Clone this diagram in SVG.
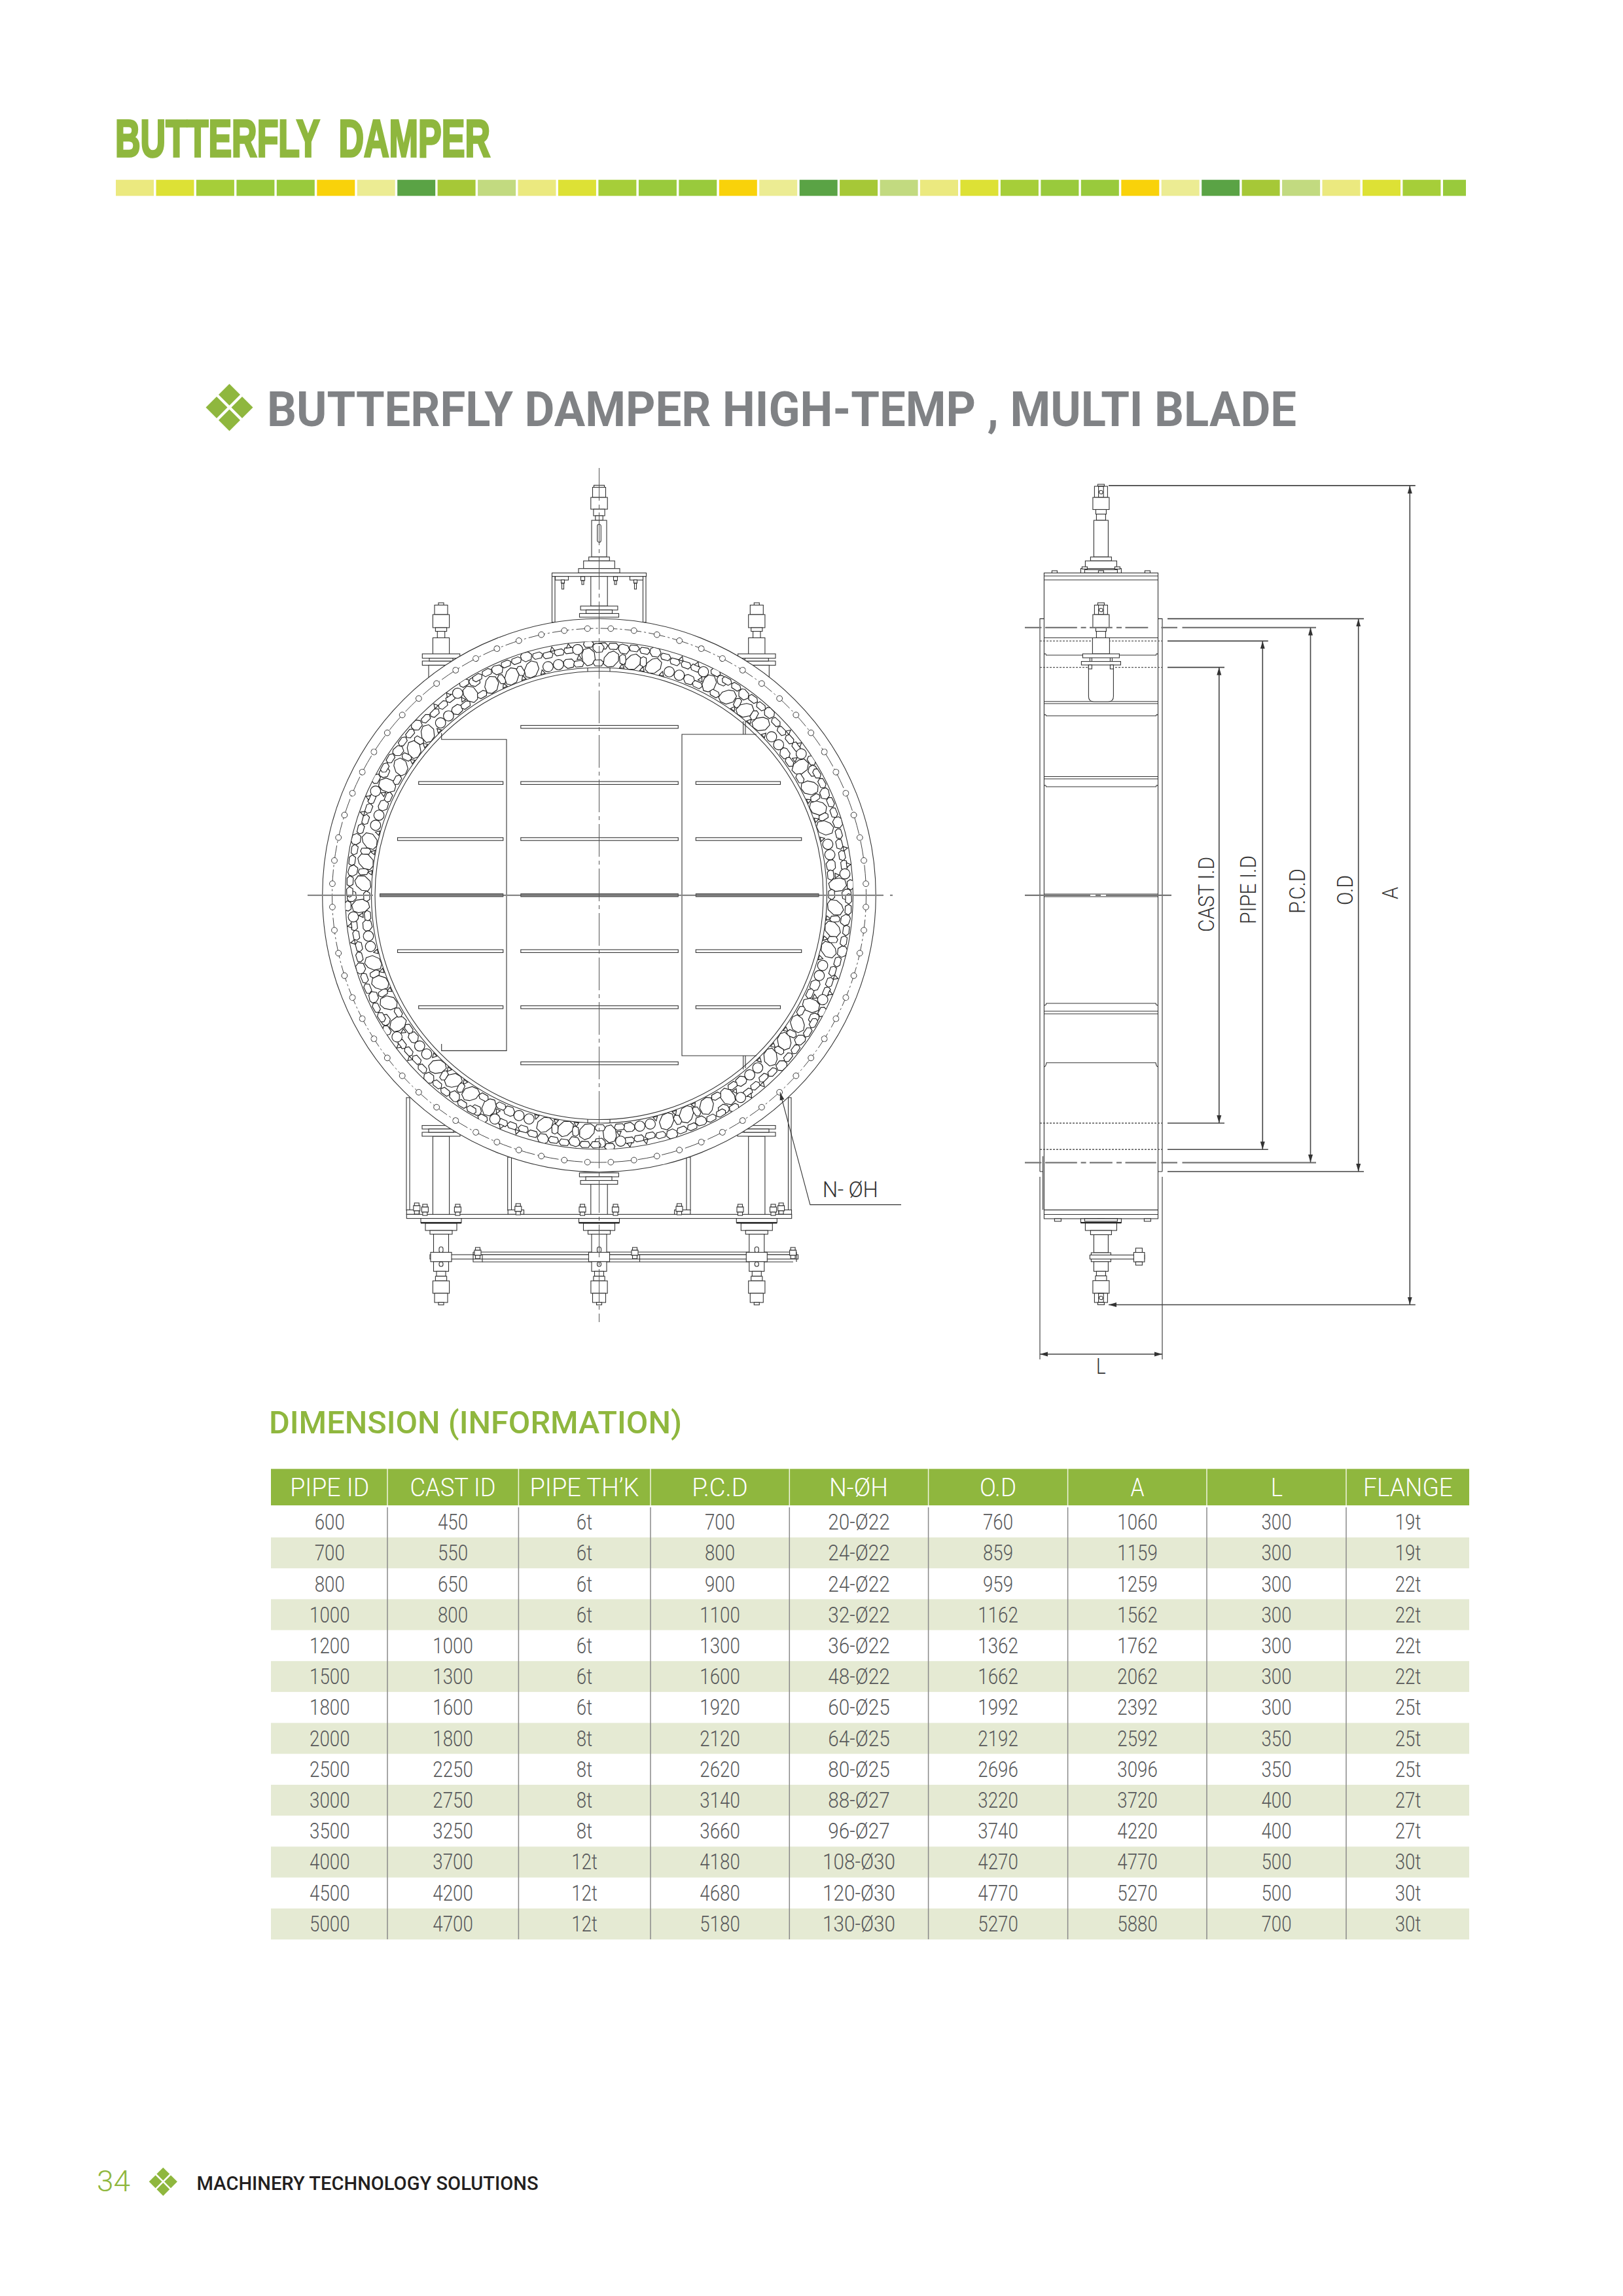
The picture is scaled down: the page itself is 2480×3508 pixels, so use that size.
<svg xmlns="http://www.w3.org/2000/svg" width="2480" height="3508" viewBox="0 0 2480 3508">
<style>
text{font-family:Roboto,"Liberation Sans",sans-serif}
.l{fill:none;stroke:#333;stroke-width:1.1}
.t{fill:none;stroke:#555;stroke-width:1}
.w{fill:#fff;stroke:#333;stroke-width:1.1}
.g{fill:#8fb73e}
.d{fill:none;stroke:#444;stroke-width:1.6}
.dg{fill:none;stroke:#777;stroke-width:2.2}
.dot{fill:none;stroke:#555;stroke-width:1.4;stroke-dasharray:3 2}
.lbl{font-size:33px;font-weight:300;fill:#333}
.hd{font-size:38px;font-weight:300;fill:#fff;text-anchor:middle}
.c{font-size:33px;font-weight:300;fill:#58595b;text-anchor:middle}
.st{fill:#fff;stroke:#222;stroke-width:1.15;stroke-linejoin:miter}
.sep{stroke:#8a8a8a;stroke-width:1.5}
.seh{stroke:#f0f4e0;stroke-width:1.5}
.s rect{y:274.7px;height:24.6px;width:58px}
</style>
<defs>
<marker id="a" markerUnits="userSpaceOnUse" markerWidth="13" markerHeight="8" refX="12" refY="4" orient="auto-start-reverse"><path d="M0,0.5 L12,4 L0,7.5Z" fill="#333"/></marker>
<g id="dm"><path d="M0,-16.5 L16.5,0 L0,16.5 L-16.5,0Z" transform="translate(0 -19.5)"/><path d="M0,-16.5 L16.5,0 L0,16.5 L-16.5,0Z" transform="translate(0 19.5)"/><path d="M0,-16.5 L16.5,0 L0,16.5 L-16.5,0Z" transform="translate(-19.5 0)"/><path d="M0,-16.5 L16.5,0 L0,16.5 L-16.5,0Z" transform="translate(19.5 0)"/></g>
<circle id="h" cx="915.5" cy="960" r="4.4" fill="#fff" stroke="#333" stroke-width=".9" transform="rotate(2.5 915.5 1368)"/>
<g id="h3"><use href="#h"/><use href="#h" transform="rotate(5 915.5 1368)"/><use href="#h" transform="rotate(10 915.5 1368)"/></g>
<g id="h9"><use href="#h3"/><use href="#h3" transform="rotate(15 915.5 1368)"/><use href="#h3" transform="rotate(30 915.5 1368)"/></g>
<g id="h18"><use href="#h9"/><use href="#h9" transform="rotate(45 915.5 1368)"/></g>
<g id="h36"><use href="#h18"/><use href="#h18" transform="rotate(90 915.5 1368)"/></g>
<path id="L" class="st" d="M-3,-13 L6,-12 L10.5,-3 L7.5,8 L0,13 L-7.5,12 L-11,3 L-8.5,-7Z"/>
<path id="M" class="st" d="M-4,-7 L5,-6.5 L9,-1 L6,6 L-3,7 L-8,2 L-8,-4Z"/>
<circle id="C" class="st" r="7.8"/>
<path id="S" class="st" d="M-6,-4.5 L4,-5 L8,-1 L5,4.5 L-5,4.5 L-8,0Z"/>
<path id="T" class="st" d="M0,-3.5 L3.5,3 L-3.5,3Z"/>
<g id="w1">
<use href="#S" transform="rotate(0.8) translate(0 -381)"/>
<use href="#L" transform="rotate(3) translate(0 -361) rotate(25)"/>
<use href="#S" transform="rotate(3.3) translate(0 -381)"/>
<use href="#M" transform="rotate(5.7) translate(0 -378) rotate(10)"/>
<use href="#T" transform="rotate(5.7) translate(0 -352)"/>
<use href="#S" transform="rotate(5.7) translate(0 -362) rotate(80)"/>
<use href="#L" transform="rotate(8.3) translate(0 -360) rotate(25)"/>
<use href="#S" transform="rotate(8.1) translate(0 -381)"/>
<use href="#S" transform="rotate(10.6) translate(0 -380)"/>
<use href="#T" transform="rotate(10.8) translate(0 -352)"/>
<use href="#S" transform="rotate(10.7) translate(0 -363) rotate(80)"/>
<use href="#L" transform="rotate(13.4) translate(0 -360) rotate(25)"/>
<use href="#M" transform="rotate(13) translate(0 -381)"/>
<use href="#S" transform="rotate(15.6) translate(0 -378)"/>
<use href="#T" transform="rotate(15.8) translate(0 -352)"/>
<use href="#C" transform="rotate(17.4) translate(0 -358)"/>
<use href="#S" transform="rotate(18) translate(0 -375)"/>
<use href="#T" transform="rotate(19.2) translate(0 -383)"/>
<use href="#C" transform="rotate(20) translate(0 -358)"/>
<use href="#S" transform="rotate(20.7) translate(0 -376)"/>
<use href="#M" transform="rotate(22.6) translate(0 -357)"/>
<use href="#S" transform="rotate(23) translate(0 -377)"/>
<use href="#T" transform="rotate(23) translate(0 -384)"/>
<use href="#C" transform="rotate(25) translate(0 -377)"/>
<use href="#S" transform="rotate(25) translate(0 -355)"/>
<use href="#L" transform="rotate(27.5) translate(0 -365) rotate(-20)"/>
<use href="#S" transform="rotate(27.6) translate(0 -384)"/>
<use href="#T" transform="rotate(25.2) translate(0 -365)"/>
<use href="#M" transform="rotate(29.8) translate(0 -378)"/>
<use href="#S" transform="rotate(29.8) translate(0 -355)"/>
</g>
<g id="w2"><use href="#w1"/><use href="#w1" transform="rotate(30)"/></g>
<g id="w4"><use href="#w2"/><use href="#w2" transform="rotate(60)"/></g>
<clipPath id="cr"><circle cx="0" cy="0" r="388"/></clipPath>
<g id="b"><rect class="w" x="-5" y="-6" width="10" height="8"/><rect class="w" x="-3.5" y="-10" width="7" height="4"/><rect class="w" x="-3.5" y="2" width="7" height="5"/></g>
<g id="sa">
<rect class="w" x="-4" y="921" width="8" height="3.5"/>
<rect class="w" x="-10" y="924.5" width="20" height="14.5"/>
<rect class="w" x="-12.6" y="939" width="25.2" height="20"/>
<rect class="w" x="-8.6" y="959" width="17.2" height="5.6"/>
<rect class="w" x="-5.7" y="964.6" width="11.4" height="10"/>
<rect class="w" x="-12.6" y="974.5" width="25.2" height="25"/>
<rect class="w" x="-28.7" y="999" width="57.4" height="6.7"/>
<rect class="w" x="-28.7" y="1010" width="57.4" height="6.4"/>
<rect class="w" x="-18" y="1005.7" width="36" height="4.3"/>
<rect class="w" x="-19" y="1016.4" width="38" height="25"/>
</g>
<g id="fb">
<rect class="w" x="-31" y="1861.6" width="62" height="6.4"/>
<rect class="w" x="-24" y="1868.8" width="48" height="11.2"/>
<path d="M-31,1868.4 H31" stroke="#222" stroke-width="2.4" fill="none"/>
<rect class="w" x="-17" y="1880" width="34" height="5.7"/>
<rect class="w" x="-11.5" y="1885.7" width="23" height="30"/>
<rect class="w" x="-3" y="1905" width="6" height="9" rx="3"/>
<rect class="w" x="-16" y="1913.4" width="32" height="14.3"/>
<rect class="w" x="-11.5" y="1927.7" width="23" height="14.7"/>
<rect class="w" x="-3" y="1928" width="6" height="7" rx="3"/>
<rect class="w" x="-7" y="1942.4" width="14" height="7.6"/>
<rect class="w" x="-8.6" y="1950" width="17.2" height="7"/>
<rect class="w" x="-12.6" y="1957" width="25.2" height="19"/>
<rect class="w" x="-10" y="1976" width="20" height="14"/>
<rect class="w" x="-4" y="1990" width="8" height="3.7"/>
</g>
</defs>

<g id="page-title">
<text x="176" y="239" font-size="80" font-weight="700" textLength="573" lengthAdjust="spacingAndGlyphs" xml:space="preserve" style="font-family:'Liberation Sans',Arial,sans-serif" fill="#8fb73e" stroke="#8fb73e" stroke-width="3.4">BUTTERFLY  DAMPER</text>
</g>
<g id="stripes" class="s">
<rect x="177" fill="#ebe97f"/><rect x="238.5" fill="#dde135"/><rect x="299.9" fill="#a6ce39"/><rect x="361.4" fill="#99ca3c"/><rect x="422.8" fill="#99ca3c"/><rect x="484.3" fill="#f9d20a"/><rect x="545.7" fill="#ecec93"/><rect x="607.2" fill="#5aa345"/><rect x="668.6" fill="#a6c837"/><rect x="730.1" fill="#c2da80"/>
<rect x="791.5" fill="#ebe97f"/><rect x="852.9" fill="#dde135"/><rect x="914.4" fill="#a6ce39"/><rect x="975.9" fill="#99ca3c"/><rect x="1037.3" fill="#99ca3c"/><rect x="1098.8" fill="#f9d20a"/><rect x="1160.2" fill="#ecec93"/><rect x="1221.7" fill="#5aa345"/><rect x="1283.1" fill="#a6c837"/><rect x="1344.6" fill="#c2da80"/>
<rect x="1406" fill="#ebe97f"/><rect x="1467.5" fill="#dde135"/><rect x="1528.9" fill="#a6ce39"/><rect x="1590.4" fill="#99ca3c"/><rect x="1651.8" fill="#99ca3c"/><rect x="1713.3" fill="#f9d20a"/><rect x="1774.7" fill="#ecec93"/><rect x="1836.2" fill="#5aa345"/><rect x="1897.6" fill="#a6c837"/><rect x="1959.1" fill="#c2da80"/>
<rect x="2020.5" fill="#ebe97f"/><rect x="2082" fill="#dde135"/><rect x="2143.4" fill="#a6ce39"/><rect x="2205" style="width:35px" fill="#99ca3c"/>
</g>
<g id="section-heading">
<use href="#dm" class="g" x="350.5" y="622.5"/>
<text x="408" y="650.7" font-size="75" font-weight="700" fill="#808285" textLength="1573" lengthAdjust="spacingAndGlyphs">BUTTERFLY DAMPER HIGH-TEMP , MULTI BLADE</text>
</g>

<g id="front-view">
<g id="front-top-actuator" transform="translate(915.5 0)">
<rect class="w" x="-8" y="741.4" width="16" height="3.1"/>
<rect class="w" x="-10" y="744.5" width="20" height="15.5"/>
<rect class="w" x="-12.7" y="760" width="25.4" height="18"/>
<rect class="w" x="-8.6" y="778" width="17.2" height="10"/>
<rect class="w" x="-5.7" y="788" width="11.4" height="7"/>
<rect class="w" x="-11.5" y="795" width="23" height="56"/>
<rect class="l" x="-2.8" y="801" width="5.6" height="27.5" rx="2.8"/>
<rect class="w" x="-15.8" y="851" width="31.6" height="6"/>
<rect class="w" x="-23.8" y="857" width="47.6" height="11.7"/>
<rect class="w" x="-31.5" y="868.7" width="63" height="6.7"/>
<rect class="w" x="-72" y="875.4" width="144" height="5.3"/>
<rect class="w" x="-72" y="880.7" width="4.5" height="70"/>
<rect class="w" x="67" y="880.7" width="4.5" height="70"/>
<rect class="w" x="-67" y="880.7" width="20" height="5.5"/>
<rect class="w" x="47" y="880.7" width="20" height="5.5"/>
<rect class="w" x="-58" y="886" width="5" height="5"/><rect class="l" x="-57" y="891" width="3" height="9"/>
<rect class="w" x="-28" y="881" width="6" height="6"/><rect class="l" x="-26.5" y="887" width="3" height="6"/>
<rect class="w" x="22" y="881" width="6" height="6"/><rect class="l" x="23.5" y="887" width="3" height="6"/>
<rect class="w" x="53" y="886" width="5" height="5"/><rect class="l" x="54" y="891" width="3" height="9"/>
<rect class="w" x="-12.7" y="880.7" width="25.4" height="45.3"/>
<rect class="w" x="-28.4" y="926" width="56.8" height="6"/>
<rect class="w" x="-20" y="932" width="40" height="5.4"/>
<rect class="w" x="-30" y="937.4" width="60" height="5.6"/>
</g>
<use href="#sa" x="674"/>
<use href="#sa" x="1156.3"/>
<g id="front-base-frame">
<rect class="w" x="621" y="1677" width="5" height="172"/>
<rect class="w" x="1204.5" y="1677" width="4.5" height="172"/>
<rect class="w" x="775.7" y="1768" width="5.8" height="81"/>
<rect class="w" x="1049" y="1768" width="6" height="81"/>
<rect class="w" x="621.3" y="1848.6" width="19.5" height="6.8"/>
<rect class="w" x="776.2" y="1848.6" width="24.3" height="6.8"/>
<rect class="w" x="1030.6" y="1848.6" width="24.3" height="6.8"/>
<rect class="w" x="1190" y="1848.6" width="19.5" height="6.8"/>
<rect class="w" x="621.3" y="1855.4" width="588.4" height="6.2"/>
<use href="#b" x="636.8" y="1848"/><use href="#b" x="649.4" y="1850"/><use href="#b" x="699.4" y="1850"/><use href="#b" x="791.8" y="1849"/><use href="#b" x="890" y="1850"/><use href="#b" x="940.5" y="1850"/><use href="#b" x="1038" y="1849"/><use href="#b" x="1131" y="1850"/><use href="#b" x="1181.5" y="1850"/><use href="#b" x="1193.6" y="1848"/>
<rect class="w" x="661.4" y="1736" width="25.2" height="119.4"/>
<rect class="w" x="1143.7" y="1736" width="25.2" height="119.4"/>
<rect class="w" x="902.8" y="1809.4" width="25.4" height="46"/>
<rect class="w" x="645" y="1719.6" width="58" height="5.4"/><rect class="w" x="645" y="1730" width="58" height="6"/><rect class="w" x="655" y="1725" width="38" height="5"/>
<rect class="w" x="1127" y="1719.6" width="58" height="5.4"/><rect class="w" x="1127" y="1730" width="58" height="6"/><rect class="w" x="1137" y="1725" width="38" height="5"/>
<rect class="w" x="885.4" y="1792" width="60" height="6"/><rect class="w" x="895" y="1798" width="40" height="5.6"/><rect class="w" x="887" y="1803.6" width="56.8" height="5.8"/>
</g>
<g id="front-link-bar">
<path class="l" d="M723,1913 H1217 M723,1917 H1217 M737,1928 H1212"/>
<rect class="w" x="657" y="1917" width="562.5" height="6.7"/>
<path class="l" d="M723,1913 V1928 H737 V1917 M977.5,1917 V1928 M1217,1913 V1928"/>
<use href="#b" x="730" y="1916"/><use href="#b" x="970" y="1916"/><use href="#b" x="1211.6" y="1916"/>
</g>
<use href="#fb" x="674"/>
<use href="#fb" x="915.5"/>
<use href="#fb" x="1156.3"/>
<g id="front-shell">
<circle class="w" cx="915.5" cy="1368" r="422.8"/>
<circle cx="915.5" cy="1368" r="408" fill="none" stroke="#444" stroke-width="1" stroke-dasharray="26 4 3 4"/>
<use href="#h36"/><use href="#h36" transform="rotate(180 915.5 1368)"/>
<circle class="w" cx="915.5" cy="1368" r="388"/>
<g transform="translate(915.5 1368)"><g clip-path="url(#cr)"><use href="#w4"/><use href="#w4" transform="rotate(120)"/><use href="#w4" transform="rotate(240)"/></g></g>
<circle class="w" cx="915.5" cy="1368" r="348"/>
<circle class="l" cx="915.5" cy="1368" r="342.5"/>
<path class="l" d="M898,1020.5 V1026 M932,1020.5 V1026 M898,1710 V1715.5 M932,1710 V1715.5"/>
</g>
<g id="front-panels">
<path class="l" d="M674.7,1120 V1129.8 H774 V1605.4 H674.7 V1595"/>
<path class="l" d="M1155.8,1122 H1042 V1613 H1156"/>
<path class="l" d="M1135.7,1102 V1122 M1139,1102 V1122 M1135.7,1613 V1634 M1139,1613 V1632"/>
</g>
<line id="front-h-center" x1="470" y1="1367.8" x2="1364" y2="1367.8" stroke="#888" stroke-width="2.2" stroke-dasharray="100 10 10 10"/>
<g id="front-blades">
<rect class="w" x="795.8" y="1108.4" width="240.5" height="4.4"/><rect class="w" x="795.8" y="1194.1" width="240.5" height="4.4"/><rect class="w" x="795.8" y="1279.8" width="240.5" height="4.4"/><rect class="w" x="795.8" y="1451" width="240.5" height="4.4"/><rect class="w" x="795.8" y="1536.7" width="240.5" height="4.4"/><rect class="w" x="795.8" y="1622.4" width="240.5" height="4.4"/>
<rect class="w" x="639.7" y="1194.1" width="129" height="4.4"/><rect class="w" x="607.5" y="1279.8" width="161.3" height="4.4"/><rect class="w" x="607.5" y="1451" width="161.3" height="4.4"/><rect class="w" x="639.7" y="1536.7" width="129" height="4.4"/>
<rect class="w" x="1063.3" y="1194.1" width="129.2" height="4.4"/><rect class="w" x="1063.3" y="1279.8" width="161.4" height="4.4"/><rect class="w" x="1063.3" y="1451" width="161.4" height="4.4"/><rect class="w" x="1063.3" y="1536.7" width="129.2" height="4.4"/>
<rect x="580.5" y="1365.6" width="188.3" height="4.4" fill="#808080" stroke="#444"/><rect x="795.8" y="1365.6" width="240.5" height="4.4" fill="#808080" stroke="#444"/><rect x="1063.3" y="1365.6" width="187.7" height="4.4" fill="#808080" stroke="#444"/>
</g>
<line id="front-v-center" x1="915.5" y1="715" x2="915.5" y2="2020" stroke="#555" stroke-width="1" stroke-dasharray="50 6 6 6"/>
<g id="hole-callout">
<path class="l" d="M1192,1669 L1237.9,1840.6 H1377" marker-start="url(#a)"/>
<text class="lbl" x="1256.8" y="1828.6" textLength="85" lengthAdjust="spacing">N- ØH</text>
</g>
</g>

<g id="side-view">
<g id="side-body">
<path class="l" d="M1589,1790 V945.4 H1595.4 M1776,1790 V945.4 H1769.5 M1589,1790 H1594 M1776,1790 H1770 M1589,1798 V2077 M1776,1798 V2077 M1593.6,1766.5 V1848.6"/>
<rect class="l" x="1595.4" y="875.4" width="174.1" height="986.6"/>
<path class="l" d="M1595.4,880 H1769.5 M1595.4,886 H1769.5 M1595.4,974.5 H1769.5 M1595.4,1071.8 H1769.5 M1595.4,1075 H1769.5 M1595.4,1186.5 H1769.5 M1595.4,1190 H1769.5 M1595.4,1366 H1769.5 M1595.4,1370 H1769.5 M1595.4,1545 H1769.5 M1595.4,1549 H1769.5 M1595.4,1848.6 H1769.5 M1595.4,1855.5 H1769.5"/>
<path class="l" d="M1595.4,1000 Q1598,997 1598.5,1001 H1766.5 Q1767,997 1769.5,1000 M1595.4,1093 Q1598,1090 1598.5,1093.7 H1766.5 Q1767,1090 1769.5,1093 M1595.4,1201 Q1598,1198 1598.5,1202 H1766.5 Q1767,1198 1769.5,1201 M1595.4,1535.5 Q1598,1537 1599,1533 H1766 Q1767,1537 1769.5,1535.5 M1595.4,1630 Q1598,1630 1599,1623.7 H1766 Q1767,1630 1769.5,1630"/>
<path class="dot" d="M1589,979.4 H1776 M1589,1019.6 H1776 M1589,1716 H1776 M1589,1756.3 H1776"/>
</g>
<g id="side-top-actuator" transform="translate(1682.4 0)">
<rect class="w" x="-5" y="740" width="10" height="3"/>
<rect class="w" x="-10" y="743" width="20" height="17"/>
<rect class="l" x="-3.8" y="743" width="7.6" height="17"/>
<circle class="l" cx="0" cy="752" r="2.8"/>
<rect class="w" x="-12.5" y="760" width="25" height="18.5"/>
<rect class="w" x="-8" y="778.5" width="16" height="7"/>
<rect class="w" x="-7" y="785.5" width="14" height="9.5"/>
<rect class="w" x="-11" y="795" width="22" height="56"/>
<rect class="w" x="-16" y="851" width="32" height="6"/>
<rect class="w" x="-24" y="857" width="48" height="11.7"/>
<rect class="w" x="-31" y="868.7" width="62" height="6.7"/>
<rect class="l" x="-25" y="870.5" width="50" height="4.9"/>
<rect class="w" x="-4" y="872" width="8" height="3.4"/><rect class="w" x="-75" y="872" width="8" height="3.4"/><rect class="w" x="67" y="872" width="8" height="3.4"/><rect class="w" x="-29" y="866" width="8" height="3.4"/><rect class="w" x="21" y="866" width="8" height="3.4"/>
</g>
<g id="side-inner-actuator" transform="translate(1682.4 0)">
<path class="w" d="M-19,1016 V1064 Q-19,1072 -11,1072 H11 Q19,1072 19,1064 V1016"/>
<rect class="w" x="-5" y="921" width="10" height="3.5"/>
<rect class="w" x="-10" y="924.5" width="20" height="14.5"/>
<rect class="l" x="-3.8" y="924.5" width="7.6" height="14.5"/>
<circle class="l" cx="0" cy="932" r="2.8"/>
<rect class="w" x="-12.5" y="939" width="25" height="20"/>
<rect class="w" x="-8" y="959" width="16" height="5.6"/>
<rect class="w" x="-7" y="964.6" width="14" height="9.9"/>
<rect class="w" x="-13" y="974.5" width="26" height="24.5"/>
<rect class="w" x="-28" y="999" width="56" height="6"/>
<rect class="w" x="-30" y="1010.6" width="60" height="5.4"/>
<path class="l" d="M-17,1005 V1010.6 M-14,1005 V1010.6 M14,1005 V1010.6 M17,1005 V1010.6"/>
<rect class="w" x="-19" y="1016" width="5" height="6"/><rect class="w" x="14" y="1016" width="5" height="6"/>
</g>
<g id="side-bottom-actuator" transform="translate(1682.4 0)">
<rect class="w" x="-71" y="1862" width="10" height="4"/><rect class="w" x="-5" y="1862" width="10" height="4"/><rect class="w" x="66" y="1862" width="10" height="4"/>
<rect class="w" x="-31" y="1862" width="62" height="6"/>
<rect class="w" x="-25" y="1862" width="50" height="4"/>
<rect class="w" x="-24" y="1868.6" width="48" height="11.4"/>
<path d="M-31,1868.2 H31" stroke="#222" stroke-width="2.2" fill="none"/>
<rect class="w" x="-16" y="1880" width="32" height="6.5"/>
<rect class="w" x="-11" y="1886.5" width="22" height="27.5"/>
<rect class="w" x="-15" y="1914" width="30" height="13.7"/>
<rect class="w" x="-17" y="1917.5" width="83.5" height="6.2"/>
<rect class="w" x="50" y="1913.5" width="16.5" height="14.5"/>
<rect class="w" x="53" y="1907" width="10" height="6.5"/><rect class="w" x="53" y="1928" width="10" height="5"/>
<rect class="w" x="-11" y="1927.7" width="22" height="14.7"/>
<rect class="w" x="-7" y="1942.4" width="14" height="7"/>
<rect class="w" x="-8.5" y="1949.4" width="17" height="7.3"/>
<rect class="w" x="-12.5" y="1956.7" width="25" height="19.3"/>
<rect class="w" x="-10" y="1976" width="20" height="14"/>
<rect class="l" x="-3.8" y="1976" width="7.6" height="14"/>
<circle class="l" cx="0" cy="1983" r="2.8"/>
<rect class="w" x="-5" y="1990" width="10" height="3.5"/>
</g>
</g>

<g id="dimensions">
<path class="dg" d="M1566,958.8 H1591.4 M1597,958.8 H1645.8 M1651.6,958.8 H1659.6 M1665,958.8 H1699.8 M1706,958.8 H1714 M1719.5,958.8 H1754.3 M1774.4,958.8 H1799 M1806.5,958.8 H2011"/>
<path class="dg" d="M1566,1776.3 H1591.4 M1597,1776.3 H1645.8 M1651.6,1776.3 H1659.6 M1665,1776.3 H1699.8 M1706,1776.3 H1714 M1719.5,1776.3 H1766.8 M1774.4,1776.3 H1799 M1806.5,1776.3 H2011"/>
<path class="dg" d="M1566,1367.8 H1798" stroke-dasharray="100 8 8 8"/>
<path class="d" d="M1694,741.9 H2162.8"/>
<path class="d" d="M2162.8,1993.5 H1694" marker-end="url(#a)"/>
<path class="d" d="M2154.3,741.9 V1993.5" marker-start="url(#a)" marker-end="url(#a)"/>
<path class="d" d="M1784,945.4 H2084 M1784,1790 H2084"/>
<path class="d" d="M2075.7,945.4 V1790" marker-start="url(#a)" marker-end="url(#a)"/>
<path class="d" d="M2002.5,958.8 V1776" marker-start="url(#a)" marker-end="url(#a)"/>
<path class="d" d="M1784,979.4 H1937.8 M1784,1756.3 H1937.8"/>
<path class="d" d="M1929.3,979.4 V1756.3" marker-start="url(#a)" marker-end="url(#a)"/>
<path class="d" d="M1784,1019.6 H1871 M1784,1716 H1871"/>
<path class="d" d="M1862.8,1019.6 V1716" marker-start="url(#a)" marker-end="url(#a)"/>
<path class="d" d="M1589,2069 H1776" marker-start="url(#a)" marker-end="url(#a)"/>
<text class="lbl" transform="translate(1855 1424) rotate(-90)" textLength="115" lengthAdjust="spacingAndGlyphs">CAST I.D</text>
<text class="lbl" transform="translate(1918.6 1412) rotate(-90)" textLength="105" lengthAdjust="spacingAndGlyphs">PIPE I.D</text>
<text class="lbl" transform="translate(1994 1396) rotate(-90)" textLength="69" lengthAdjust="spacingAndGlyphs">P.C.D</text>
<text class="lbl" transform="translate(2066.8 1383) rotate(-90)" textLength="46" lengthAdjust="spacingAndGlyphs">O.D</text>
<text class="lbl" transform="translate(2136 1374) rotate(-90)" textLength="19" lengthAdjust="spacingAndGlyphs">A</text>
<text class="lbl" x="1675" y="2099" textLength="14.6" lengthAdjust="spacingAndGlyphs">L</text>
</g>

<g id="table">
<text x="411" y="2190" font-size="49" font-weight="500" fill="#8fb73e" textLength="631" lengthAdjust="spacingAndGlyphs">DIMENSION (INFORMATION)</text>
<rect x="414" y="2244.3" width="1831" height="55.7" fill="#8fb73e"/>
<g fill="#e5ead3"><rect x="414" y="2349" width="1831" height="47.2"/><rect x="414" y="2443.4" width="1831" height="47.2"/><rect x="414" y="2537.9" width="1831" height="47.2"/><rect x="414" y="2632.4" width="1831" height="47.2"/><rect x="414" y="2726.9" width="1831" height="47.2"/><rect x="414" y="2821.4" width="1831" height="47.2"/><rect x="414" y="2915.9" width="1831" height="47.4"/></g>
<g class="seh"><line x1="592" y1="2244" x2="592" y2="2300"/><line x1="792.4" y1="2244" x2="792.4" y2="2300"/><line x1="994" y1="2244" x2="994" y2="2300"/><line x1="1206.3" y1="2244" x2="1206.3" y2="2300"/><line x1="1418.6" y1="2244" x2="1418.6" y2="2300"/><line x1="1631.6" y1="2244" x2="1631.6" y2="2300"/><line x1="1844" y1="2244" x2="1844" y2="2300"/><line x1="2057" y1="2244" x2="2057" y2="2300"/></g>
<g class="sep"><line x1="592" y1="2303" x2="592" y2="2963"/><line x1="792.4" y1="2303" x2="792.4" y2="2963"/><line x1="994" y1="2303" x2="994" y2="2963"/><line x1="1206.3" y1="2303" x2="1206.3" y2="2963"/><line x1="1418.6" y1="2303" x2="1418.6" y2="2963"/><line x1="1631.6" y1="2303" x2="1631.6" y2="2963"/><line x1="1844" y1="2303" x2="1844" y2="2963"/><line x1="2057" y1="2303" x2="2057" y2="2963"/></g>
<g id="table-header">
<text class="hd" x="503.8" y="2285.7" textLength="121" lengthAdjust="spacingAndGlyphs">PIPE ID</text>
<text class="hd" x="692" y="2285.7" textLength="131" lengthAdjust="spacingAndGlyphs">CAST ID</text>
<text class="hd" x="893" y="2285.7" textLength="167" lengthAdjust="spacingAndGlyphs">PIPE TH’K</text>
<text class="hd" x="1100" y="2285.7" textLength="85.5" lengthAdjust="spacingAndGlyphs">P.C.D</text>
<text class="hd" x="1312" y="2285.7" textLength="90" lengthAdjust="spacingAndGlyphs">N-ØH</text>
<text class="hd" x="1525" y="2285.7" textLength="56" lengthAdjust="spacingAndGlyphs">O.D</text>
<text class="hd" x="1738" y="2285.7" textLength="21" lengthAdjust="spacingAndGlyphs">A</text>
<text class="hd" x="1951" y="2285.7" textLength="18" lengthAdjust="spacingAndGlyphs">L</text>
<text class="hd" x="2151.5" y="2285.7" textLength="137" lengthAdjust="spacingAndGlyphs">FLANGE</text>
</g>
<g id="col-pipe-id" class="c" transform="translate(503.8 0) scale(.84 1)"><text y="2337.3">600</text><text y="2384.5">700</text><text y="2431.7">800</text><text y="2478.9">1000</text><text y="2526.1">1200</text><text y="2573.3">1500</text><text y="2620.5">1800</text><text y="2667.7">2000</text><text y="2714.9">2500</text><text y="2762.1">3000</text><text y="2809.3">3500</text><text y="2856.5">4000</text><text y="2903.7">4500</text><text y="2950.9">5000</text></g>
<g id="col-cast-id" class="c" transform="translate(692 0) scale(.84 1)"><text y="2337.3">450</text><text y="2384.5">550</text><text y="2431.7">650</text><text y="2478.9">800</text><text y="2526.1">1000</text><text y="2573.3">1300</text><text y="2620.5">1600</text><text y="2667.7">1800</text><text y="2714.9">2250</text><text y="2762.1">2750</text><text y="2809.3">3250</text><text y="2856.5">3700</text><text y="2903.7">4200</text><text y="2950.9">4700</text></g>
<g id="col-pipe-thk" class="c" transform="translate(893 0) scale(.84 1)"><text y="2337.3">6t</text><text y="2384.5">6t</text><text y="2431.7">6t</text><text y="2478.9">6t</text><text y="2526.1">6t</text><text y="2573.3">6t</text><text y="2620.5">6t</text><text y="2667.7">8t</text><text y="2714.9">8t</text><text y="2762.1">8t</text><text y="2809.3">8t</text><text y="2856.5">12t</text><text y="2903.7">12t</text><text y="2950.9">12t</text></g>
<g id="col-pcd" class="c" transform="translate(1100 0) scale(.84 1)"><text y="2337.3">700</text><text y="2384.5">800</text><text y="2431.7">900</text><text y="2478.9">1100</text><text y="2526.1">1300</text><text y="2573.3">1600</text><text y="2620.5">1920</text><text y="2667.7">2120</text><text y="2714.9">2620</text><text y="2762.1">3140</text><text y="2809.3">3660</text><text y="2856.5">4180</text><text y="2903.7">4680</text><text y="2950.9">5180</text></g>
<g id="col-n-h" class="c" transform="translate(1312.5 0) scale(.9 1)"><text y="2337.3">20-Ø22</text><text y="2384.5">24-Ø22</text><text y="2431.7">24-Ø22</text><text y="2478.9">32-Ø22</text><text y="2526.1">36-Ø22</text><text y="2573.3">48-Ø22</text><text y="2620.5">60-Ø25</text><text y="2667.7">64-Ø25</text><text y="2714.9">80-Ø25</text><text y="2762.1">88-Ø27</text><text y="2809.3">96-Ø27</text><text y="2856.5">108-Ø30</text><text y="2903.7">120-Ø30</text><text y="2950.9">130-Ø30</text></g>
<g id="col-od" class="c" transform="translate(1525 0) scale(.84 1)"><text y="2337.3">760</text><text y="2384.5">859</text><text y="2431.7">959</text><text y="2478.9">1162</text><text y="2526.1">1362</text><text y="2573.3">1662</text><text y="2620.5">1992</text><text y="2667.7">2192</text><text y="2714.9">2696</text><text y="2762.1">3220</text><text y="2809.3">3740</text><text y="2856.5">4270</text><text y="2903.7">4770</text><text y="2950.9">5270</text></g>
<g id="col-a" class="c" transform="translate(1738 0) scale(.84 1)"><text y="2337.3">1060</text><text y="2384.5">1159</text><text y="2431.7">1259</text><text y="2478.9">1562</text><text y="2526.1">1762</text><text y="2573.3">2062</text><text y="2620.5">2392</text><text y="2667.7">2592</text><text y="2714.9">3096</text><text y="2762.1">3720</text><text y="2809.3">4220</text><text y="2856.5">4770</text><text y="2903.7">5270</text><text y="2950.9">5880</text></g>
<g id="col-l" class="c" transform="translate(1950.5 0) scale(.84 1)"><text y="2337.3">300</text><text y="2384.5">300</text><text y="2431.7">300</text><text y="2478.9">300</text><text y="2526.1">300</text><text y="2573.3">300</text><text y="2620.5">300</text><text y="2667.7">350</text><text y="2714.9">350</text><text y="2762.1">400</text><text y="2809.3">400</text><text y="2856.5">500</text><text y="2903.7">500</text><text y="2950.9">700</text></g>
<g id="col-flange" class="c" transform="translate(2151.5 0) scale(.84 1)"><text y="2337.3">19t</text><text y="2384.5">19t</text><text y="2431.7">22t</text><text y="2478.9">22t</text><text y="2526.1">22t</text><text y="2573.3">22t</text><text y="2620.5">25t</text><text y="2667.7">25t</text><text y="2714.9">25t</text><text y="2762.1">27t</text><text y="2809.3">27t</text><text y="2856.5">30t</text><text y="2903.7">30t</text><text y="2950.9">30t</text></g>
</g>

<g id="footer">
<text x="148" y="3347.7" font-size="44" font-weight="300" fill="#8fb73e" textLength="51" lengthAdjust="spacingAndGlyphs">34</text>
<g class="g" transform="translate(249.3 3333.3) scale(.6)"><use href="#dm"/></g>
<text x="300.6" y="3345.7" font-size="29" font-weight="500" fill="#231f20" textLength="522" lengthAdjust="spacingAndGlyphs">MACHINERY TECHNOLOGY SOLUTIONS</text>
</g>
</svg>
